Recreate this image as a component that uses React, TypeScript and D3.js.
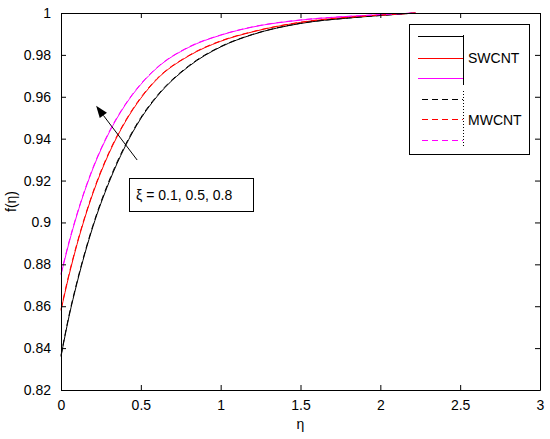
import { useEffect, useRef } from "react";
import * as d3 from "d3";

// ── Data ──────────────────────────────────────────────────
const eta = [0, 0.05, 0.1, 0.2, 0.3, 0.4, 0.5, 0.6, 0.8, 1.0, 1.2, 1.5, 1.8, 2.0, 2.22];

const swBlack   = [0.836, 0.855, 0.871, 0.898, 0.919, 0.936, 0.9496, 0.960, 0.9745, 0.9838, 0.9897, 0.995, 0.9976, 0.9988, 1];
const swRed     = [0.858, 0.8747, 0.8894, 0.9139, 0.9329, 0.9477, 0.9593, 0.9683, 0.9795, 0.9865, 0.991, 0.9955, 0.998, 0.999, 1];
const swMagenta = [0.875, 0.8902, 0.9036, 0.9257, 0.9427, 0.9558, 0.9659, 0.9737, 0.9836, 0.9894, 0.9933, 0.9966, 0.9984, 0.9992, 1];

const mwBlack   = [0.8365, 0.8556, 0.8716, 0.8986, 0.9197, 0.9366, 0.9501, 0.9604, 0.9748, 0.984, 0.9898, 0.9951, 0.9976, 0.9988, 1];
const mwRed     = [0.8585, 0.8753, 0.8899, 0.9144, 0.9334, 0.9481, 0.9597, 0.9686, 0.9797, 0.9867, 0.9911, 0.9956, 0.998, 0.999, 1];
const mwMagenta = [0.8755, 0.8907, 0.904, 0.9261, 0.9431, 0.9561, 0.9662, 0.9739, 0.9838, 0.9895, 0.9934, 0.9967, 0.9984, 0.9992, 1];

const xTicks = [0, 0.5, 1, 1.5, 2, 2.5, 3];
const yTicks = [0.82, 0.84, 0.86, 0.88, 0.9, 0.92, 0.94, 0.96, 0.98, 1];

const series = [
  { values: swBlack,   color: "#000000", dash: null },
  { values: swRed,     color: "#ff0000", dash: null },
  { values: swMagenta, color: "#ff00ff", dash: null },
  { values: mwBlack,   color: "#000000", dash: "6,4" },
  { values: mwRed,     color: "#ff0000", dash: "6,4" },
  { values: mwMagenta, color: "#ff00ff", dash: "6,4" },
];

// arrow in data coords: tail -> head
const arrowTail = [0.477, 0.9298];
const arrowHead = [0.22, 0.9557];

// ── Layout ────────────────────────────────────────────────
const W = 550;
const H = 439;
const L = 61, R = 540, T = 13, B = 390;
const FONT = "'Liberation Sans', Arial, Helvetica, sans-serif";

const x = d3.scaleLinear().domain([0, 3]).range([L, R]);
const y = d3.scaleLinear().domain([0.82, 1]).range([B, T]);

const line = d3.line<number>()
  .x((_, i) => x(eta[i]))
  .y(d => y(d))
  .curve(d3.curveMonotoneX);

export default function App() {
  const gx = useRef<SVGGElement>(null);
  const gxTop = useRef<SVGGElement>(null);
  const gy = useRef<SVGGElement>(null);
  const gyRight = useRef<SVGGElement>(null);

  useEffect(() => {
    document.body.style.margin = "0";
    const fmt = (d: any) => String(d);

    d3.select(gx.current!).call(
      d3.axisBottom(x).tickValues(xTicks).tickSizeInner(-5).tickSizeOuter(0).tickPadding(10).tickFormat(fmt)
    );
    d3.select(gxTop.current!).call(
      d3.axisTop(x).tickValues(xTicks).tickSizeInner(-5).tickSizeOuter(0).tickFormat(() => "")
    );
    d3.select(gy.current!).call(
      d3.axisLeft(y).tickValues(yTicks).tickSizeInner(-5).tickSizeOuter(0).tickPadding(10).tickFormat(fmt)
    );
    d3.select(gyRight.current!).call(
      d3.axisRight(y).tickValues(yTicks).tickSizeInner(-5).tickSizeOuter(0).tickFormat(() => "")
    );

    [gx, gxTop, gy, gyRight].forEach(r => {
      const g = d3.select(r.current!);
      g.selectAll("path.domain").attr("stroke", "#000").attr("stroke-width", 1);
      g.selectAll("line").attr("stroke", "#000");
      g.selectAll("text").attr("font-family", FONT).attr("font-size", 14).attr("fill", "#000");
    });
  }, []);

  const ax = x(arrowHead[0]), ay = y(arrowHead[1]);
  const tx = x(arrowTail[0]), ty = y(arrowTail[1]);
  const ang = Math.atan2(ay - ty, ax - tx);
  const hl = 12, hw = 4.5;
  const bx = ax - hl * Math.cos(ang), by = ay - hl * Math.sin(ang);
  const head = [
    [ax, ay],
    [bx + hw * Math.sin(ang), by - hw * Math.cos(ang)],
    [bx - hw * Math.sin(ang), by + hw * Math.cos(ang)],
  ];

  return (
    <svg width={W} height={H} style={{ display: "block", background: "#fff" }}>
      <rect x={0} y={0} width={W} height={H} fill="#fff" />

      {/* curves */}
      <g fill="none">
        {series.map((s, i) => (
          <path key={i} d={line(s.values)!}
            stroke={s.color} strokeWidth={1}
            strokeDasharray={s.dash ?? undefined} />
        ))}
      </g>

      {/* axes (box) */}
      <g ref={gx} transform={`translate(0,${B})`} />
      <g ref={gxTop} transform={`translate(0,${T})`} />
      <g ref={gy} transform={`translate(${L},0)`} />
      <g ref={gyRight} transform={`translate(${R},0)`} />

      {/* axis labels */}
      <text x={(L + R) / 2} y={429} textAnchor="middle"
        fontFamily={FONT} fontSize={14}>η</text>
      <text transform={`translate(16,${(T + B) / 2}) rotate(-90)`} textAnchor="middle"
        fontFamily={FONT} fontSize={14}>f(η)</text>

      {/* arrow annotation */}
      <line x1={tx} y1={ty} x2={bx} y2={by} stroke="#000" strokeWidth={1} />
      <polygon points={head.map(p => p.join(",")).join(" ")} fill="#000" />

      <rect x={129.5} y={178.5} width={124} height={33} fill="#fff" stroke="#000" strokeWidth={1} />
      <text x={136} y={200} fontFamily={FONT} fontSize={14}>ξ = 0.1, 0.5, 0.8</text>

      {/* legend */}
      <g shapeRendering="crispEdges">
        <rect x={409.5} y={24.5} width={120} height={130} fill="#fff" stroke="#000" strokeWidth={1} />
        {series.map((s, i) => {
          const ly = [36, 58, 78, 99, 119, 140][i];
          return (
            <line key={i} x1={s.dash ? 422 : 418} x2={463} y1={ly + 0.5} y2={ly + 0.5}
              stroke={s.color} strokeWidth={1}
              strokeDasharray={s.dash ?? undefined} />
          );
        })}
        <line x1={463.5} x2={463.5} y1={35} y2={85} stroke="#000" strokeWidth={1} />
        <line x1={463.5} x2={463.5} y1={91} y2={146} stroke="#000" strokeWidth={1} strokeDasharray="1,2" />
        <text x={468} y={63} fontFamily={FONT} fontSize={14}>SWCNT</text>
        <text x={468} y={125} fontFamily={FONT} fontSize={14}>MWCNT</text>
      </g>
    </svg>
  );
}
